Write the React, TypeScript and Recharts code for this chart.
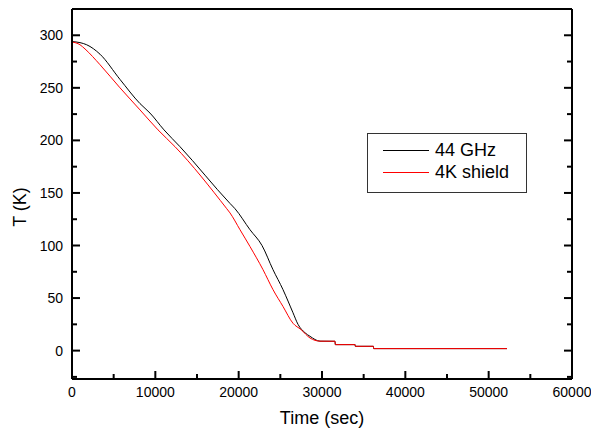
import { Label, Legend, Line, LineChart, XAxis, YAxis } from "recharts";

const FONT = "'Liberation Sans', Arial, sans-serif";

// 44 GHz stage (black)
const ghzTime = [0, 960, 1760, 3360, 5760, 8160, 9360, 11040, 12960, 18960, 19560, 21360, 22800, 24120, 25320, 26520, 27120, 27960, 28560, 29760, 31560, 31600, 33970, 34000, 36170, 36200, 52200];
const ghzTemp = [294, 293, 291, 282, 258, 235, 226, 210, 194, 140, 135, 115, 100, 77, 58, 36, 25, 17, 13.6, 9, 8.9, 5.7, 5.7, 4.1, 4.1, 1.9, 1.9];

// 4K shield (red)
const shieldTime = [0, 960, 1560, 3360, 5760, 8160, 10320, 12360, 18570, 18960, 20160, 21360, 22920, 24120, 25320, 26520, 27480, 28560, 29760, 31560, 31600, 33970, 34000, 36170, 36200, 52200];
const shieldTemp = [293.6, 291, 287, 272, 250, 229, 210, 194, 135, 131, 115, 99, 77, 58, 42, 26, 20, 12, 9, 8.9, 5.7, 5.7, 4.1, 4.1, 1.9, 1.9];

const xTicks = [0, 5000, 10000, 15000, 20000, 25000, 30000, 35000, 40000, 45000, 50000, 55000, 60000];
const yTicks = [-25, 0, 25, 50, 75, 100, 125, 150, 175, 200, 225, 250, 275, 300, 325];

const ghzData = ghzTime.map((t, i) => ({ t, v: ghzTemp[i] }));
const shieldData = shieldTime.map((t, i) => ({ t, v: shieldTemp[i] }));

const BottomTick = (p: any) => {
  const major = p.payload.value % 10000 === 0;
  return (
    <g>
      <line x1={p.x} x2={p.x} y1={p.y} y2={p.y - (major ? 8 : 5)} stroke="#000" strokeWidth={2} />
      {major && (
        <text x={p.x} y={p.y + 18} textAnchor="middle" fontSize={14} fontFamily={FONT} fill="#000">
          {p.payload.value}
        </text>
      )}
    </g>
  );
};

const TopTick = (p: any) => {
  const major = p.payload.value % 10000 === 0;
  return <line x1={p.x} x2={p.x} y1={p.y} y2={p.y + (major ? 8 : 5)} stroke="#000" strokeWidth={2} />;
};

const LeftTick = (p: any) => {
  const v = p.payload.value;
  const major = v % 50 === 0;
  if (v < -26 || v > 324) return <g />;
  return (
    <g>
      <line x1={p.x} x2={p.x + (major ? 8 : 5)} y1={p.y} y2={p.y} stroke="#000" strokeWidth={2} />
      {major && (
        <text x={p.x - 9} y={p.y + 5} textAnchor="end" fontSize={14} fontFamily={FONT} fill="#000">
          {v}
        </text>
      )}
    </g>
  );
};

const RightTick = (p: any) => {
  const v = p.payload.value;
  if (v < -26 || v > 324) return <g />;
  const major = v % 50 === 0;
  return <line x1={p.x} x2={p.x - (major ? 8 : 5)} y1={p.y} y2={p.y} stroke="#000" strokeWidth={2} />;
};

const LegendBox = () => (
  <div
    style={{
      width: 158,
      height: 58,
      border: "1px solid #333",
      background: "#fff",
      fontFamily: FONT,
      fontSize: 18,
      position: "relative",
    }}
  >
    {[
      { name: "44 GHz", color: "#000", top: 16 },
      { name: "4K shield", color: "#ff0000", top: 38 },
    ].map((s) => (
      <div key={s.name} style={{ position: "absolute", left: 15, top: s.top - 10, height: 20, display: "flex", alignItems: "center", whiteSpace: "nowrap" }}>
        <div style={{ width: 46, height: 1, background: s.color }} />
        <span style={{ marginLeft: 6, color: "#000" }}>{s.name}</span>
      </div>
    ))}
  </div>
);

export default function App() {
  return (
    <div style={{ position: "absolute", left: 0, top: 0, background: "#fff" }}>
      <LineChart width={591} height={431} margin={{ top: 0, right: 0, bottom: 0, left: 0 }}>
        <XAxis
          xAxisId="b"
          dataKey="t"
          type="number"
          domain={[0, 60000]}
          ticks={xTicks}
          interval={0}
          height={52}
          tickSize={0}
          tickMargin={0}
          tickLine={false}
          axisLine={{ stroke: "#000", strokeWidth: 2 }}
          tick={<BottomTick />}
        >
          <Label
            content={(props: any) => {
              const vb = props.viewBox;
              return (
                <text x={vb.x + vb.width / 2} y={vb.y + 45} textAnchor="middle" fontSize={18} fontFamily={FONT} fill="#000">
                  Time (sec)
                </text>
              );
            }}
          />
        </XAxis>
        <XAxis
          xAxisId="t"
          orientation="top"
          dataKey="t"
          type="number"
          domain={[0, 60000]}
          ticks={xTicks}
          interval={0}
          height={9}
          tickSize={0}
          tickMargin={0}
          tickLine={false}
          axisLine={{ stroke: "#000", strokeWidth: 2 }}
          tick={<TopTick />}
        />
        <YAxis
          yAxisId="l"
          type="number"
          domain={[-27, 325]}
          ticks={yTicks}
          interval={0}
          width={72}
          tickSize={0}
          tickMargin={0}
          tickLine={false}
          allowDataOverflow
          axisLine={{ stroke: "#000", strokeWidth: 2 }}
          tick={<LeftTick />}
        >
          <Label
            content={(props: any) => {
              const vb = props.viewBox;
              const cx = vb.x + 20;
              const cy = vb.y + vb.height / 2 + 13;
              return (
                <text
                  x={cx}
                  y={cy}
                  transform={`rotate(-90 ${cx} ${cy})`}
                  textAnchor="middle"
                  dominantBaseline="central"
                  fontSize={18}
                  fontFamily={FONT}
                  fill="#000"
                >
                  T (K)
                </text>
              );
            }}
          />
        </YAxis>
        <YAxis
          yAxisId="r"
          orientation="right"
          type="number"
          domain={[-27, 325]}
          ticks={yTicks}
          interval={0}
          width={19}
          tickSize={0}
          tickMargin={0}
          tickLine={false}
          allowDataOverflow
          axisLine={{ stroke: "#000", strokeWidth: 2 }}
          tick={<RightTick />}
        />
        <Legend
          layout="horizontal"
          verticalAlign="middle"
          align="center"
          content={<LegendBox />}
          wrapperStyle={{ left: 367, top: 133, width: 160, height: 60 }}
        />
        <Line
          xAxisId="b"
          yAxisId="l"
          data={ghzData}
          dataKey="v"
          name="44 GHz"
          type="monotone"
          stroke="#000"
          strokeWidth={1}
          dot={false}
          isAnimationActive={false}
        />
        <Line
          xAxisId="b"
          yAxisId="l"
          data={shieldData}
          dataKey="v"
          name="4K shield"
          type="monotone"
          stroke="#ff0000"
          strokeWidth={1}
          dot={false}
          isAnimationActive={false}
        />
      </LineChart>
    </div>
  );
}
